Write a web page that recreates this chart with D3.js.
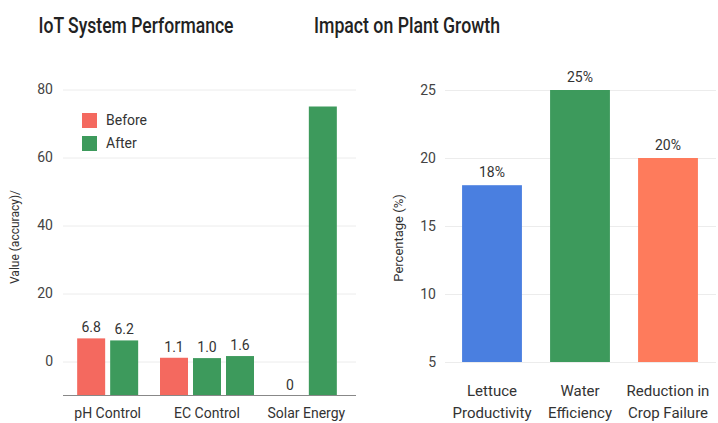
<!DOCTYPE html>
<html>
<head>
<meta charset="utf-8">
<script src="https://cdn.jsdelivr.net/npm/d3@7/dist/d3.min.js"></script>
<style>
  html, body { margin: 0; padding: 0; background: #fff; }
  svg { display: block; font-family: Roboto, "Noto Sans", sans-serif; }
</style>
</head>
<body>
<svg id="chart" width="718" height="423"></svg>
<script>
// IoT system performance (left panel)
const systemCategories = ["pH Control", "EC Control", "Solar Energy"];
const beforeValues = [6.8, 1.1, 0];
const afterValues = [6.2, 1.0, 75];
const afterExtraValues = [null, 1.6, null];
const systemTicks = [0, 20, 40, 60, 80];

// Plant growth impact (right panel)
const growthCategories = [["Lettuce", "Productivity"], ["Water", "Efficiency"], ["Reduction in", "Crop Failure"]];
const growthValues = [18, 25, 20];
const growthTicks = [5, 10, 15, 20, 25];

const RED = "#f4695f", GREEN = "#3d9a5c", BLUE = "#4a7fe0", ORANGE = "#fe7b5c";
const growthColors = [BLUE, GREEN, ORANGE];

const svg = d3.select("#chart");

// ---------- Left panel ----------
const left = svg.append("g");
const x0 = d3.scaleBand().domain(systemCategories).range([58, 356]).padding(0);
const yL = d3.scaleLinear().domain([-10, 80]).range([395.5, 89.5]);

left.append("text").attr("x", 136).attr("y", 33).attr("text-anchor", "middle")
  .attr("font-size", 22).attr("font-weight", 500).attr("fill", "#222")
  .attr("textLength", 195).attr("lengthAdjust", "spacingAndGlyphs")
  .text("IoT System Performance");

// gridlines + tick labels
const yAxisL = d3.axisLeft(yL).tickValues(systemTicks).tickSize(-(356 - 63)).tickPadding(10);
const gL = left.append("g").attr("transform", "translate(63,0)").call(yAxisL);
gL.select(".domain").remove();
gL.selectAll(".tick line").attr("stroke", "#ececec");
gL.selectAll(".tick text").attr("font-size", 14).attr("fill", "#444").attr("font-family", "Roboto, sans-serif");

left.append("text").attr("transform", "translate(19,237) rotate(-90)")
  .attr("text-anchor", "middle").attr("font-size", 12).attr("fill", "#333")
  .text("Value (accuracy)/");

// bars per category
const slot = 33, barW = 28;
const bars = [];
systemCategories.forEach((c, i) => {
  const items = [];
  if (beforeValues[i] != null) items.push({ c, v: beforeValues[i], color: RED });
  if (afterValues[i] != null && i !== 2) items.push({ c, v: afterValues[i], color: GREEN });
  if (afterExtraValues[i] != null) items.push({ c, v: afterExtraValues[i], color: GREEN });
  if (i === 2) items.push({ c, v: afterValues[i], color: GREEN, noLabel: true });
  const center = x0(c) + x0.bandwidth() / 2;
  items.forEach((d, k) => {
    d.cx = center + (k - (items.length - 1) / 2) * slot;
    bars.push(d);
  });
});

// a zero reading draws no bar, only its label
left.selectAll("rect.bar").data(bars.filter(d => d.v > 0)).join("rect")
  .attr("class", "bar")
  .attr("x", d => d.cx - barW / 2).attr("width", barW)
  .attr("y", d => yL(d.v)).attr("height", d => yL(-10) - yL(d.v))
  .attr("fill", d => d.color);

left.selectAll("text.val").data(bars.filter(d => !d.noLabel)).join("text")
  .attr("class", "val").attr("x", d => d.cx).attr("y", d => (d.v > 0 ? yL(d.v) : yL(-10)) - 6)
  .attr("text-anchor", "middle").attr("font-size", 14).attr("fill", "#333")
  .text(d => d.v === 0 ? "0" : d3.format(".1f")(d.v));

left.append("line").attr("x1", 63).attr("x2", 356).attr("y1", yL(-10)).attr("y2", yL(-10))
  .attr("stroke", "#888").attr("stroke-width", 1.2);

left.selectAll("text.cat").data(systemCategories).join("text")
  .attr("class", "cat").attr("x", d => x0(d) + x0.bandwidth() / 2).attr("y", 418)
  .attr("text-anchor", "middle").attr("font-size", 14).attr("fill", "#333").text(d => d);

// legend
const legend = left.append("g");
[["Before", RED], ["After", GREEN]].forEach(([name, col], i) => {
  legend.append("rect").attr("x", 82).attr("y", 113 + i * 23).attr("width", 15).attr("height", 15).attr("fill", col);
  legend.append("text").attr("x", 106).attr("y", 125 + i * 23).attr("font-size", 14).attr("fill", "#333").text(name);
});

// ---------- Right panel ----------
const right = svg.append("g");
const xR = d3.scaleBand().domain(growthCategories.map(d => d.join(" ")))
  .range([448, 712]).paddingInner(0.32).paddingOuter(0.16);
const yR = d3.scaleLinear().domain([5, 25]).range([362, 90]);

right.append("text").attr("x", 407).attr("y", 33).attr("text-anchor", "middle")
  .attr("font-size", 22).attr("font-weight", 500).attr("fill", "#222")
  .attr("textLength", 186).attr("lengthAdjust", "spacingAndGlyphs")
  .text("Impact on Plant Growth");

const yAxisR = d3.axisLeft(yR).tickValues(growthTicks).tickSize(-(716 - 445)).tickPadding(9);
const gR = right.append("g").attr("transform", "translate(445,0)").call(yAxisR);
gR.select(".domain").remove();
gR.selectAll(".tick line").attr("stroke", "#ececec");
gR.selectAll(".tick text").attr("font-size", 14).attr("fill", "#444").attr("font-family", "Roboto, sans-serif");

right.append("text").attr("transform", "translate(403,238) rotate(-90)")
  .attr("text-anchor", "middle").attr("font-size", 13).attr("fill", "#333")
  .text("Percentage (%)");

const growth = growthCategories.map((c, i) => ({ key: c.join(" "), lines: c, v: growthValues[i], color: growthColors[i] }));

right.selectAll("rect.bar").data(growth).join("rect")
  .attr("class", "bar").attr("x", d => xR(d.key)).attr("width", xR.bandwidth())
  .attr("y", d => yR(d.v)).attr("height", d => yR(5) - yR(d.v)).attr("fill", d => d.color);

right.selectAll("text.val").data(growth).join("text")
  .attr("class", "val").attr("x", d => xR(d.key) + xR.bandwidth() / 2).attr("y", d => yR(d.v) - 8)
  .attr("text-anchor", "middle").attr("font-size", 14).attr("fill", "#333").text(d => d.v + "%");

right.selectAll("text.cat").data(growth).join("text")
  .attr("class", "cat").attr("text-anchor", "middle").attr("font-size", 15).attr("fill", "#333")
  .attr("x", d => xR(d.key) + xR.bandwidth() / 2).attr("y", 396)
  .each(function (d) {
    d3.select(this).selectAll("tspan").data(d.lines).join("tspan")
      .attr("x", xR(d.key) + xR.bandwidth() / 2).attr("dy", (l, j) => j === 0 ? 0 : 22).text(l => l);
  });
</script>
</body>
</html>
